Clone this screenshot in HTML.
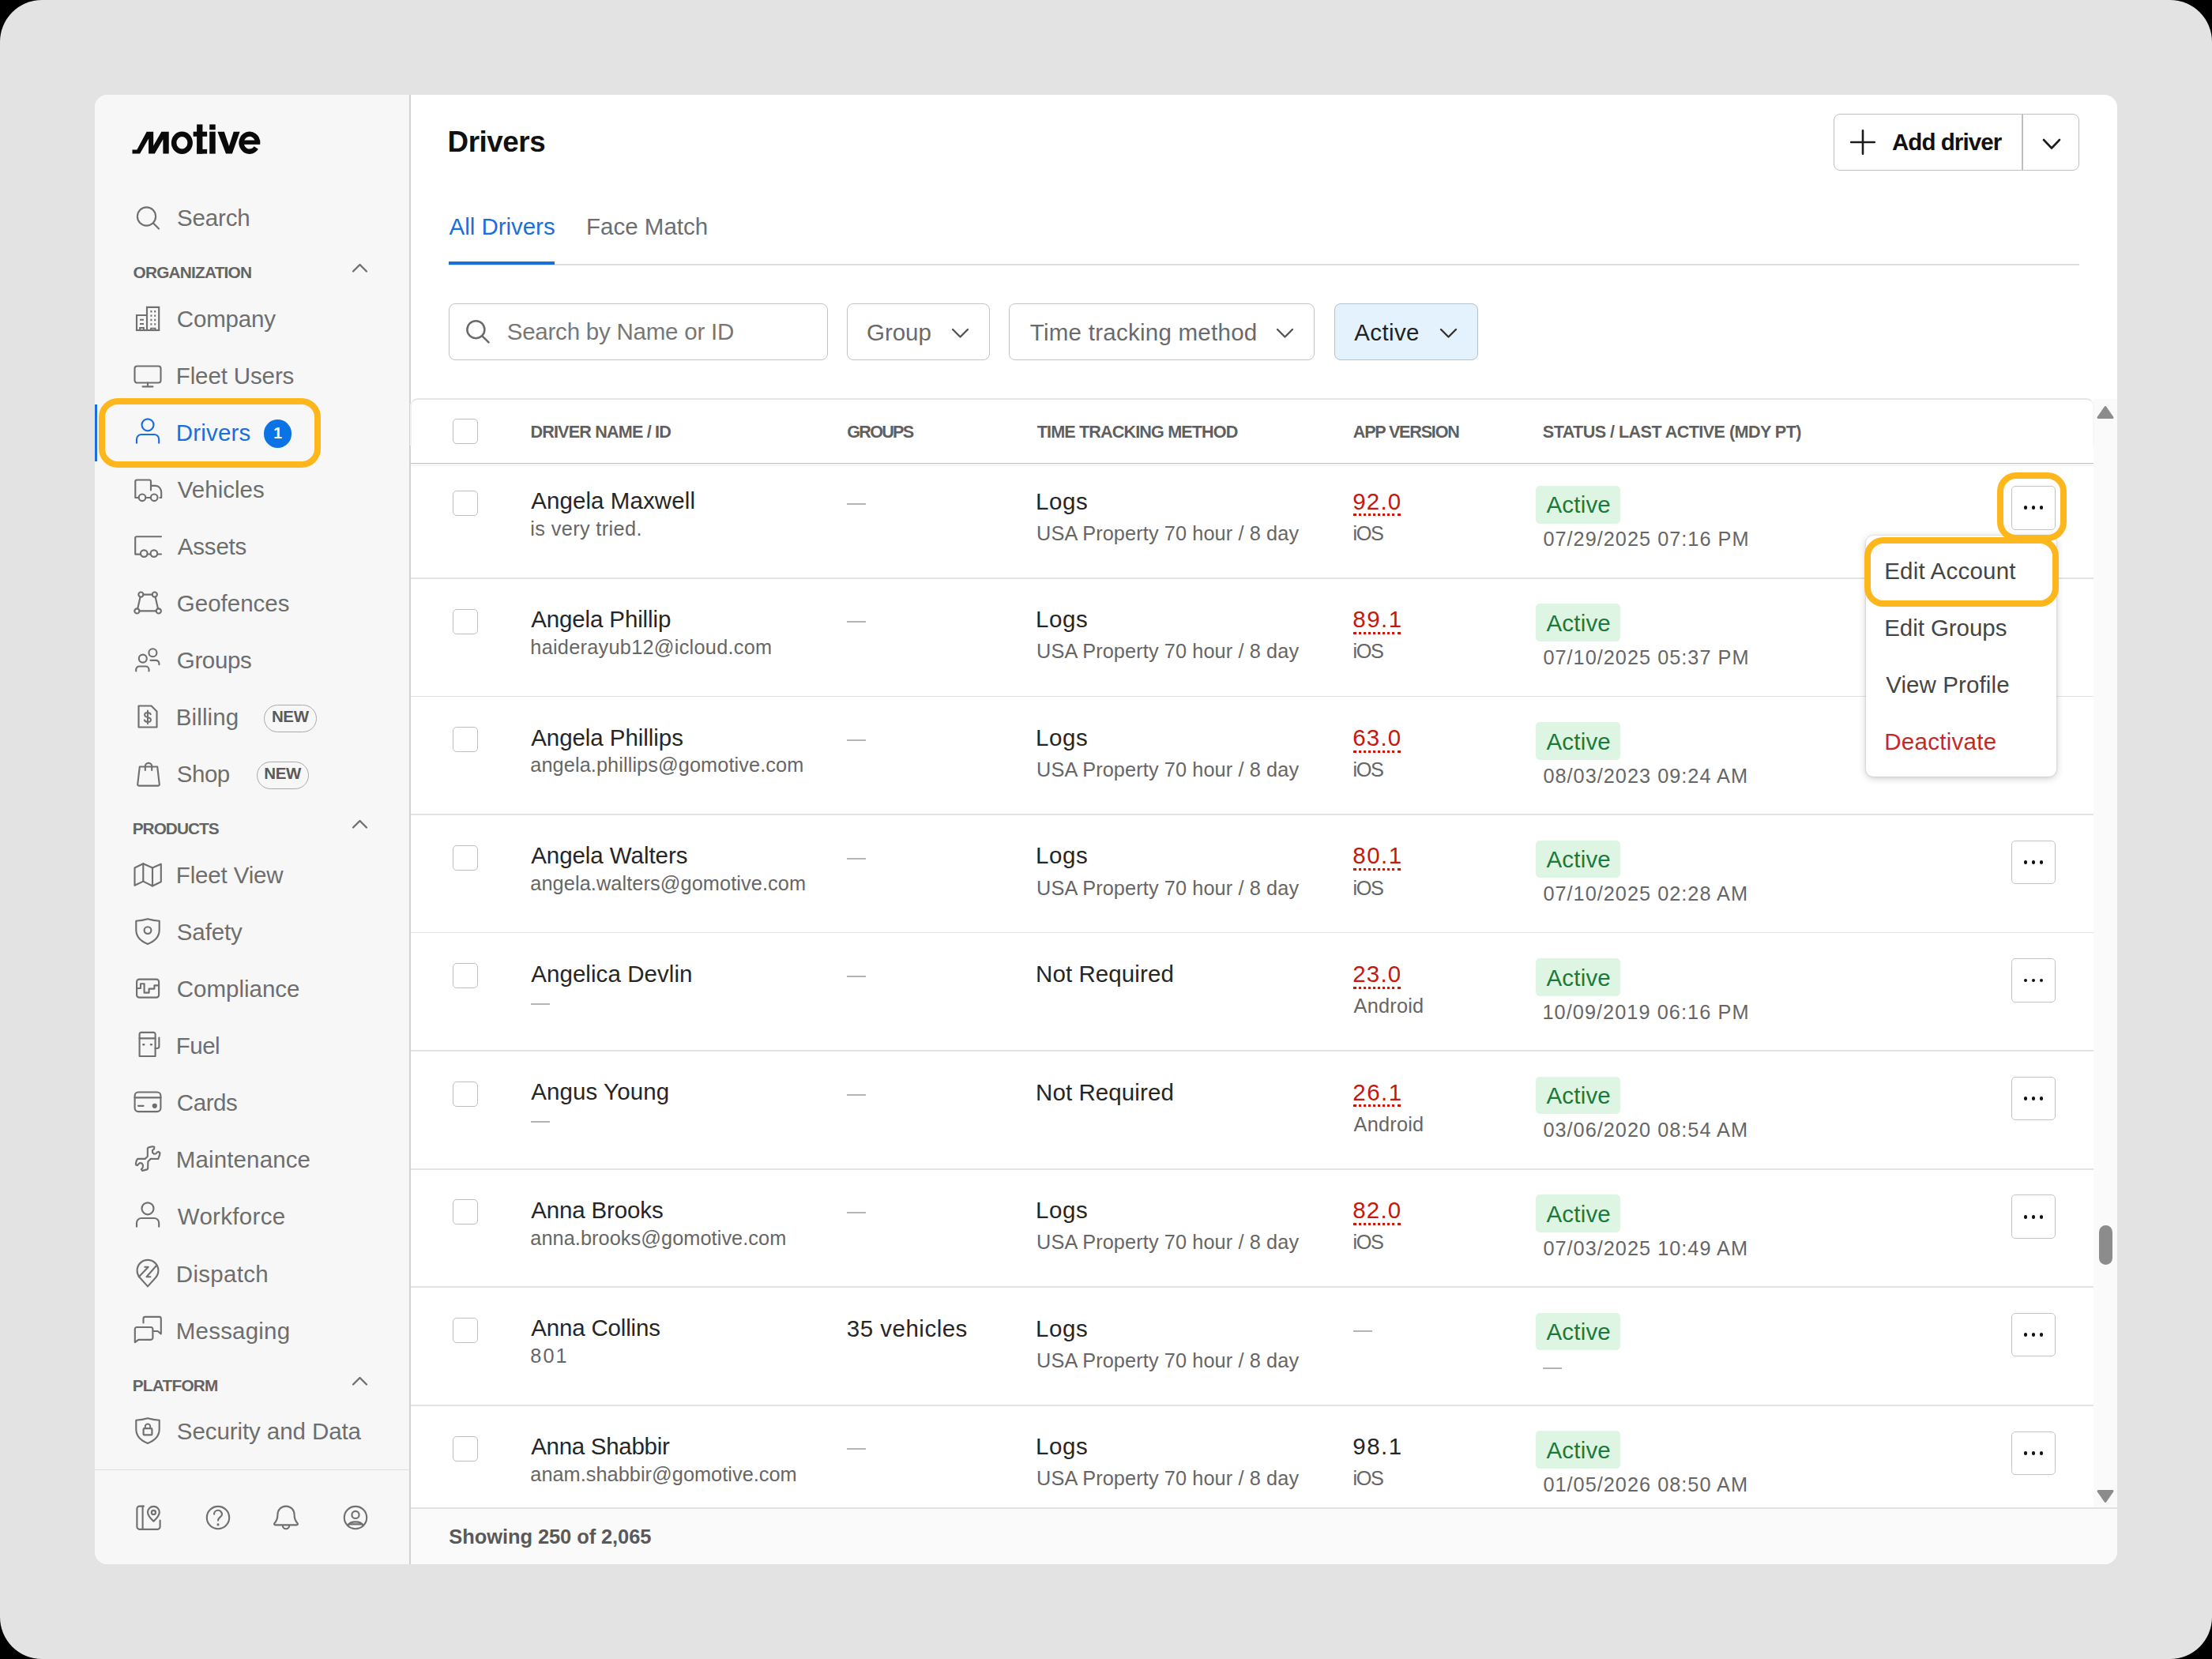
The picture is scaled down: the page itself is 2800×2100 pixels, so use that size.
<!DOCTYPE html>
<html lang="en">
<head>
<meta charset="utf-8">
<title>Drivers</title>
<style>
html,body{margin:0;padding:0;background:#000;}
body{width:2800px;height:2100px;font-family:"Liberation Sans",sans-serif;}
#stage{position:relative;width:2800px;height:2100px;background:#e3e3e3;border-radius:53px;overflow:hidden;}
#stage div,#stage svg{position:absolute;box-sizing:border-box;}
.t{white-space:nowrap;font-family:"Liberation Sans",sans-serif;}
#panel{left:120px;top:120px;width:2560px;height:1860px;background:#fff;border-radius:16px;overflow:hidden;}
#side{left:120px;top:120px;width:399px;height:1860px;background:#f7f7f7;border-radius:16px 0 0 16px;}
#sideb{left:518px;top:120px;width:2px;height:1860px;background:#d2d2d2;}
.hl{border:8px solid #fdb71c;border-radius:24px;}
.box{border:1.7px solid #c4c4c4;border-radius:8px;background:#fff;}
.cb{width:32px;height:32px;border:1.6px solid #bfbfbf;border-radius:5px;background:#fff;}
.sep{left:520px;width:2130px;height:1.8px;background:#e3e3e3;}
.dash{width:24px;height:2px;background:#b4b4b4;}
.badge{width:107px;height:47.8px;background:#dff5e4;border-radius:5px;}
.more{width:56px;height:55.6px;border:1.7px solid #c4c4c4;border-radius:5px;background:#fff;}
.dot{width:4.8px;height:4.8px;border-radius:50%;background:#111;}
.ul{height:0;border-top:3px dotted #c4190c;}
.ic{stroke:#707070;stroke-width:2.15;fill:none;stroke-linecap:round;stroke-linejoin:round;}
</style>
</head>
<body>
<div id="stage">
<div id="panel"></div>
<div id="side"></div>
<div id="sideb"></div>
<div style="left:120px;top:1859.6px;width:398px;height:1.8px;background:#dedede;"></div>
<div style="left:120px;top:512px;width:3px;height:72px;background:#1a6fdc;"></div>
<div class="hl" style="left:125px;top:504px;width:281px;height:88px;"></div>
<div style="left:334px;top:531.3px;width:35.4px;height:35.4px;border-radius:50%;background:#0b73e6;"></div>
<div style="left:334.2px;top:891.6px;width:66.8px;height:35px;border:1.6px solid #a9a9a9;border-radius:18px;"></div>
<div style="left:324.5px;top:963.6px;width:66.8px;height:35px;border:1.6px solid #a9a9a9;border-radius:18px;"></div>
<svg style="left:160px;top:150px;" width="180" height="55" viewBox="0 0 2212 676"><polygon fill="#0a0a0a" points="92,485 165,485 315,205 420,205 420,425 545,205 660,205 660,548 570,548 570,322 440,548 345,548 345,312 210,548 92,548"/>
<ellipse cx="865" cy="378" rx="126" ry="134" fill="none" stroke="#0a0a0a" stroke-width="80"/>
<rect x="1095" y="92" width="90" height="456" fill="#0a0a0a"/>
<rect x="1040" y="205" width="215" height="75" fill="#0a0a0a"/>
<rect x="1095" y="478" width="160" height="70" fill="#0a0a0a"/>
<rect x="1293" y="205" width="92" height="343" fill="#0a0a0a"/>
<rect x="1293" y="92" width="92" height="83" fill="#0a0a0a"/>
<polygon fill="#0a0a0a" points="1418,205 1522,205 1597,430 1668,205 1765,205 1645,548 1548,548"/>
<path d="M2041,378 A126,136 0 1 0 2018,456" fill="none" stroke="#0a0a0a" stroke-width="78"/>
<rect x="1790" y="338" width="290" height="66" fill="#0a0a0a"/></svg>
<svg style="left:444.0px;top:332.05px;" width="23" height="14.5" viewBox="0 0 23 14.5"><path d="M3,11.5 L11.5,3 L20,11.5" fill="none" stroke="#6e6e6e" stroke-width="2.3" stroke-linecap="round" stroke-linejoin="round"/></svg>
<svg style="left:444.0px;top:1036.15px;" width="23" height="14.5" viewBox="0 0 23 14.5"><path d="M3,11.5 L11.5,3 L20,11.5" fill="none" stroke="#6e6e6e" stroke-width="2.3" stroke-linecap="round" stroke-linejoin="round"/></svg>
<svg style="left:444.0px;top:1740.65px;" width="23" height="14.5" viewBox="0 0 23 14.5"><path d="M3,11.5 L11.5,3 L20,11.5" fill="none" stroke="#6e6e6e" stroke-width="2.3" stroke-linecap="round" stroke-linejoin="round"/></svg>
<svg style="left:167.0px;top:255.5px;" width="40" height="40" viewBox="0 0 40 40"><g class="ic"><circle cx="18.5" cy="18" r="11.6"/><path d="M27,26.5 L34,33.5"/></g></svg>
<svg style="left:167.4px;top:382.5px;" width="40" height="40" viewBox="0 0 40 40"><g class="ic"><g stroke-linejoin="miter" stroke-linecap="butt"><path d="M19,35 V5.8 H34.2 V35"/><path d="M6,35 V16 H19"/><path d="M4.9,35 H35.3"/>
<path d="M23.4,11.2 h2 M28.2,11.2 h2 M23.4,16.6 h2 M28.2,16.6 h2 M23.4,22 h2 M28.2,22 h2 M23.4,27.4 h2 M28.2,27.4 h2" stroke-width="2.4"/>
<path d="M10,21.8 h5 M10,27 h5" stroke-width="2"/><path d="M10,35 v-3 h5 v3 M24,35 v-2.4 h5.6 v2.4" stroke-width="1.8"/></g></g></svg>
<svg style="left:167.2px;top:456.0px;" width="40" height="40" viewBox="0 0 40 40"><g class="ic"><rect x="3.5" y="7.5" width="33" height="21" rx="3"/><path d="M20,28.5 V33 M13.5,33.3 H26.5"/></g></svg>
<svg style="left:167.4px;top:528.4px;" width="40" height="40" viewBox="0 0 40 40"><g class="ic" style="stroke:#1a6fdc"><circle cx="20" cy="9.8" r="7.5"/><path d="M6,33.6 V28 a6,6 0 0 1 6,-6 H28.2 a6,6 0 0 1 6,6 V33.6" stroke-linecap="butt"/></g></svg>
<svg style="left:167.3px;top:601.2px;" width="40" height="40" viewBox="0 0 40 40"><g class="ic"><path d="M8.5,29 H4.3 V8.5 a2,2 0 0 1 2,-2 H22 a2,2 0 0 1 2,2 V19.5"/><path d="M24,13.8 H30 c4,0 7.2,4 7.2,8.5 V29 H35.5"/>
<path d="M17.5,29 H23.5"/><circle cx="13" cy="28.8" r="4.3"/><circle cx="28.2" cy="28.8" r="4.3"/></g></svg>
<svg style="left:167.3px;top:672.4px;" width="40" height="40" viewBox="0 0 40 40"><g class="ic"><path d="M37,7.2 H6 a1.8,1.8 0 0 0 -1.8,1.8 V29.6 H11"/><path d="M19.6,29.5 H23.5 M32.5,29.5 H37"/>
<circle cx="15.3" cy="28.6" r="4.3"/><circle cx="27.9" cy="28.6" r="4.3"/></g></svg>
<svg style="left:167.4px;top:742.5px;" width="40" height="40" viewBox="0 0 40 40"><g class="ic"><circle cx="11.4" cy="9.6" r="3.1"/><circle cx="28.8" cy="9.6" r="3.1"/><circle cx="6.4" cy="30.4" r="3.1"/><circle cx="33.8" cy="30.4" r="3.1"/>
<path d="M14.5,9.6 H25.7 M9.5,30.4 H30.7 M10.6,12.6 L7.2,27.4 M29.6,12.6 L33,27.4"/></g></svg>
<svg style="left:167.3px;top:815.5px;" width="40" height="40" viewBox="0 0 40 40"><g class="ic"><circle cx="13.8" cy="17.6" r="5"/><circle cx="26.4" cy="10.2" r="5"/>
<path d="M5.2,33.5 V31.5 a4,4 0 0 1 4,-4 H17.5 a4,4 0 0 1 4,4 V33.5"/><path d="M23.5,19.8 H30.4 a4,4 0 0 1 4,4 V25.2"/></g></svg>
<svg style="left:167.4px;top:886.8px;" width="40" height="40" viewBox="0 0 40 40"><g class="ic"><path d="M8.5,6.5 H24.5 L31.5,13.5 V33.5 H8.5 Z"/>
<path d="M23.8,17.2 c-0.8,-1.6 -2.2,-2.2 -3.9,-2.2 c-2.2,0 -3.8,1.1 -3.8,2.9 c0,4.2 7.9,1.8 7.9,6 c0,1.9 -1.7,3 -4,3 c-1.9,0 -3.5,-0.8 -4.2,-2.4 M20,12.6 V29.2" stroke-width="2"/></g></svg>
<svg style="left:167.6px;top:960.5px;" width="40" height="40" viewBox="0 0 40 40"><g class="ic"><path d="M8.8,9.5 H31.2 L33.8,32 a1.5,1.5 0 0 1 -1.5,1.6 H7.7 a1.5,1.5 0 0 1 -1.5,-1.6 Z"/>
<path d="M15.8,14 V9 a4.2,4.2 0 0 1 8.4,0 V14"/></g></svg>
<svg style="left:167.4px;top:1086.5px;" width="40" height="40" viewBox="0 0 40 40"><g class="ic"><path d="M3.5,11.5 L14.3,6.2 L26,11.5 L36.8,6.8 V29.2 L26,34.5 L14.3,28.6 L3.5,33.8 Z"/><path d="M14.3,6.2 V28.6 M26,11.5 V34.5"/></g></svg>
<svg style="left:167.4px;top:1158.7px;" width="40" height="40" viewBox="0 0 40 40"><g class="ic"><path d="M20,4.2 C15,5.6 10,6.4 5.3,6.8 V18 C5.3,27 12,32.8 20,36 C28,32.8 34.7,27 34.7,18 V6.8 C30,6.4 25,5.6 20,4.2 Z"/><circle cx="20" cy="18.6" r="4.4"/></g></svg>
<svg style="left:167.4px;top:1230.8px;" width="40" height="40" viewBox="0 0 40 40"><g class="ic"><rect x="6.1" y="8.6" width="28" height="23" rx="3.2"/>
<path d="M6.6,20 H11 V14.2 H15.6 V25.6 H21.6 V20.6 H28.4 V16.4 H33.6"/></g></svg>
<svg style="left:167.5px;top:1301.6px;" width="40" height="40" viewBox="0 0 40 40"><g class="ic"><path d="M8.6,35 V7 a2.2,2.2 0 0 1 2.2,-2.2 H26.4 a2.2,2.2 0 0 1 2.2,2.2 V35 Z"/><path d="M8.6,12.4 H28.6"/>
<path d="M13.4,20.2 h0.8 M23,20.2 h0.8" stroke-width="2.6"/><path d="M28.6,25 H31 a2.4,2.4 0 0 0 2.4,-2.4 V11.5"/></g></svg>
<svg style="left:167.3px;top:1374.8px;" width="40" height="40" viewBox="0 0 40 40"><g class="ic"><rect x="3.6" y="7.5" width="32.8" height="24.6" rx="4.5"/><path d="M3.6,14.4 H36.4"/><path d="M8,24.8 H14.6"/>
<circle cx="28.8" cy="24.8" r="3.1" fill="#6e6e6e" stroke="none"/></g></svg>
<svg style="left:167.4px;top:1446.8px;" width="40" height="40" viewBox="0 0 40 40"><g class="ic"><path d="M19.85,6.34 L21.20,5.39 L26.09,4.30 L28.26,4.71 L28.12,7.42 L25.95,9.05 L26.09,12.04 L27.99,13.66 L30.70,13.26 L31.92,11.49 L33.68,10.95 L35.45,12.31 L35.17,14.75 L33.14,20.04 L23.64,19.90 L20.39,23.16 L20.12,32.11 L19.30,33.33 L13.06,34.83 L11.84,33.20 L13.61,31.16 L14.01,28.04 L12.66,25.60 L10.08,25.06 L8.32,26.55 L6.96,28.18 L5.47,27.77 L4.87,26.14 L5.60,22.62 L7.10,19.90 L16.59,19.90 L19.85,16.65 Z"/></g></svg>
<svg style="left:167.4px;top:1520.4px;" width="40" height="40" viewBox="0 0 40 40"><g class="ic"><circle cx="20" cy="9.8" r="7.5"/><path d="M6,33.6 V28 a6,6 0 0 1 6,-6 H28.2 a6,6 0 0 1 6,6 V33.6" stroke-linecap="butt"/></g></svg>
<svg style="left:167.4px;top:1591.5px;" width="40" height="40" viewBox="0 0 40 40"><g class="ic"><path d="M20,36.4 L10,25.2 A13.4,13.4 0 1 1 30,25.2 Z"/>
<path d="M8.8,24.2 L20.7,11.7 H16.3 M31,10 L18.5,24.2 H23.4" stroke-width="2.1"/></g></svg>
<svg style="left:167.3px;top:1661.0px;" width="40" height="40" viewBox="0 0 40 40"><g class="ic"><path d="M14.5,13.5 V8.2 a2.4,2.4 0 0 1 2.4,-2.4 H34.4 a2.4,2.4 0 0 1 2.4,2.4 V27.5 L32.6,24 H27"/>
<path d="M6.2,19 H24 a2.4,2.4 0 0 1 2.4,2.4 V32.4 a2.4,2.4 0 0 1 -2.4,2.4 H8.2 L3.8,38.2 V21.4 a2.4,2.4 0 0 1 2.4,-2.4 Z"/></g></svg>
<svg style="left:167.4px;top:1791.4px;" width="40" height="40" viewBox="0 0 40 40"><g class="ic"><path d="M20,4.2 C15,5.6 10,6.4 5.3,6.8 V18 C5.3,27 12,32.8 20,36 C28,32.8 34.7,27 34.7,18 V6.8 C30,6.4 25,5.6 20,4.2 Z"/><rect x="14.6" y="17.2" width="10.8" height="8.2" rx="1" stroke-width="2.2"/><path d="M16.8,17.2 V14.6 a3.2,3.2 0 0 1 6.4,0 V17.2" stroke-width="2"/></g></svg>
<svg style="left:167.6px;top:1901.2px;" width="40" height="40" viewBox="0 0 40 40"><g class="ic"><path d="M14,5.6 H8.6 a3.2,3.2 0 0 0 -3.2,3.2 V31.6 a3.2,3.2 0 0 0 3.2,3.2 H31.4 a3.2,3.2 0 0 0 3.2,-3.2 V23.5"/><path d="M12.6,5.6 V34.8"/>
<path d="M26.4,24.6 c-4.4,-4 -7.4,-7.6 -7.4,-11.4 a7.4,7.4 0 0 1 14.8,0 c0,3.8 -3,7.4 -7.4,11.4 Z"/><circle cx="26.4" cy="13.4" r="2.6"/></g></svg>
<svg style="left:255.5px;top:1901.4px;" width="40" height="40" viewBox="0 0 40 40"><g class="ic"><circle cx="20" cy="20" r="14.2"/><path d="M15,15.6 a5,5 0 0 1 10,0.4 c0,3.4 -5,3.6 -5,7.6"/><path d="M20,28.6 v0.6" stroke-width="2.8"/></g></svg>
<svg style="left:342.0px;top:1901.2px;" width="40" height="40" viewBox="0 0 40 40"><g class="ic"><path d="M20,5.6 c-6.4,0 -10.6,4.8 -10.6,11 c0,5.6 -1.6,8.2 -4,10.6 c-0.8,0.8 -0.2,2.2 1,2.2 H33.6 c1.2,0 1.8,-1.4 1,-2.2 c-2.4,-2.4 -4,-5 -4,-10.6 c0,-6.2 -4.2,-11 -10.6,-11 Z"/><path d="M15.8,30 a4.2,4.2 0 0 0 8.4,0"/></g></svg>
<svg style="left:430.0px;top:1901.4px;" width="40" height="40" viewBox="0 0 40 40"><g class="ic"><circle cx="20" cy="20" r="14.2"/><circle cx="20" cy="16.4" r="4.6"/><path d="M10.4,30.2 c1.6,-3.6 5.2,-4.8 9.6,-4.8 s8,1.2 9.6,4.8"/><path d="M11.4,28.4 H28.6"/></g></svg>
<div style="left:568px;top:334px;width:2064px;height:2px;background:#dedede;"></div>
<div style="left:567.6px;top:331px;width:134.4px;height:4px;background:#1a6fdc;"></div>
<div class="box" style="left:2321px;top:144px;width:311px;height:72px;border-radius:8px;border-color:#c0c0c0;"></div>
<div style="left:2559.1px;top:145px;width:1.7px;height:70px;background:#c0c0c0;"></div>
<svg style="left:2340px;top:162px;" width="36" height="36" viewBox="0 0 36 36"><path d="M18,3.2 V32.8 M3.2,18 H32.8" fill="none" stroke="#1c1c1c" stroke-width="2.6" stroke-linecap="round"/></svg>
<svg style="left:2583.5px;top:174.25px;" width="26" height="16.5" viewBox="0 0 26 16.5"><path d="M3,3 L13.0,13.5 L23,3" fill="none" stroke="#1c1c1c" stroke-width="2.6" stroke-linecap="round" stroke-linejoin="round"/></svg>
<div class="box" style="left:568px;top:384px;width:480px;height:72px;"></div>
<svg style="left:584px;top:399px;" width="42" height="42" viewBox="0 0 42 42"><circle cx="18.4" cy="18.2" r="11" fill="none" stroke="#6a6a6a" stroke-width="2.5"/><path d="M26.4,26.4 L34.6,34.4" stroke="#6a6a6a" stroke-width="2.5" stroke-linecap="round"/></svg>
<div class="box" style="left:1072px;top:384px;width:181px;height:72px;"></div>
<svg style="left:1202.8px;top:414.05px;" width="25" height="15.5" viewBox="0 0 25 15.5"><path d="M3,3 L12.5,12.5 L22,3" fill="none" stroke="#555" stroke-width="2.4" stroke-linecap="round" stroke-linejoin="round"/></svg>
<div class="box" style="left:1277px;top:384px;width:387px;height:72px;"></div>
<svg style="left:1614.1px;top:414.05px;" width="25" height="15.5" viewBox="0 0 25 15.5"><path d="M3,3 L12.5,12.5 L22,3" fill="none" stroke="#555" stroke-width="2.4" stroke-linecap="round" stroke-linejoin="round"/></svg>
<div class="box" style="left:1688.5px;top:384px;width:182px;height:72px;background:#e3f2fd;border-color:#b3c2ce;"></div>
<svg style="left:1820.7px;top:414.05px;" width="25" height="15.5" viewBox="0 0 25 15.5"><path d="M3,3 L12.5,12.5 L22,3" fill="none" stroke="#333" stroke-width="2.4" stroke-linecap="round" stroke-linejoin="round"/></svg>
<div style="left:2650px;top:505px;width:30px;height:1404px;background:#fafafa;"></div>
<div style="left:519px;top:504px;width:2132px;height:60px;border:2px solid #e6e6e6;border-bottom:none;border-left-color:#f0f0f0;border-right-color:#f7f7f7;border-radius:10px 10px 0 0;background:#fff;"></div>
<div style="left:520px;top:585.6px;width:2130px;height:1.8px;background:#c2c2c2;box-shadow:0 2px 3px rgba(0,0,0,0.15);"></div>
<div class="cb" style="left:572.5px;top:530px;"></div>
<div class="sep" style="top:731.0px;"></div>
<div class="cb" style="left:572.5px;top:621.0px;"></div>
<div class="dash" style="left:1072px;top:636.8px;"></div>
<div class="badge" style="left:1944.2px;top:614.8px;"></div>
<div class="ul" style="left:1713px;top:650.4px;width:60px;"></div>
<div class="more" style="left:2546px;top:615.0px;"></div>
<div class="dot" style="left:2561.6px;top:640.4px;"></div>
<div class="dot" style="left:2571.6px;top:640.4px;"></div>
<div class="dot" style="left:2581.6px;top:640.4px;"></div>
<div class="sep" style="top:880.6px;"></div>
<div class="cb" style="left:572.5px;top:770.6px;"></div>
<div class="dash" style="left:1072px;top:786.4px;"></div>
<div class="badge" style="left:1944.2px;top:764.4px;"></div>
<div class="ul" style="left:1713px;top:800.0px;width:60px;"></div>
<div class="sep" style="top:1030.1px;"></div>
<div class="cb" style="left:572.5px;top:920.1px;"></div>
<div class="dash" style="left:1072px;top:935.9px;"></div>
<div class="badge" style="left:1944.2px;top:913.9px;"></div>
<div class="ul" style="left:1713px;top:949.5px;width:60px;"></div>
<div class="sep" style="top:1179.7px;"></div>
<div class="cb" style="left:572.5px;top:1069.7px;"></div>
<div class="dash" style="left:1072px;top:1085.5px;"></div>
<div class="badge" style="left:1944.2px;top:1063.5px;"></div>
<div class="ul" style="left:1713px;top:1099.1px;width:60px;"></div>
<div class="more" style="left:2546px;top:1063.7px;"></div>
<div class="dot" style="left:2561.6px;top:1089.1px;"></div>
<div class="dot" style="left:2571.6px;top:1089.1px;"></div>
<div class="dot" style="left:2581.6px;top:1089.1px;"></div>
<div class="sep" style="top:1329.2px;"></div>
<div class="cb" style="left:572.5px;top:1219.2px;"></div>
<div class="dash" style="left:672px;top:1269.7px;"></div>
<div class="dash" style="left:1072px;top:1235.0px;"></div>
<div class="badge" style="left:1944.2px;top:1213.0px;"></div>
<div class="ul" style="left:1713px;top:1248.6px;width:60px;"></div>
<div class="more" style="left:2546px;top:1213.2px;"></div>
<div class="dot" style="left:2561.6px;top:1238.6px;"></div>
<div class="dot" style="left:2571.6px;top:1238.6px;"></div>
<div class="dot" style="left:2581.6px;top:1238.6px;"></div>
<div class="sep" style="top:1478.8px;"></div>
<div class="cb" style="left:572.5px;top:1368.8px;"></div>
<div class="dash" style="left:672px;top:1419.3px;"></div>
<div class="dash" style="left:1072px;top:1384.6px;"></div>
<div class="badge" style="left:1944.2px;top:1362.6px;"></div>
<div class="ul" style="left:1713px;top:1398.2px;width:60px;"></div>
<div class="more" style="left:2546px;top:1362.8px;"></div>
<div class="dot" style="left:2561.6px;top:1388.2px;"></div>
<div class="dot" style="left:2571.6px;top:1388.2px;"></div>
<div class="dot" style="left:2581.6px;top:1388.2px;"></div>
<div class="sep" style="top:1628.4px;"></div>
<div class="cb" style="left:572.5px;top:1518.4px;"></div>
<div class="dash" style="left:1072px;top:1534.2px;"></div>
<div class="badge" style="left:1944.2px;top:1512.2px;"></div>
<div class="ul" style="left:1713px;top:1547.8px;width:60px;"></div>
<div class="more" style="left:2546px;top:1512.4px;"></div>
<div class="dot" style="left:2561.6px;top:1537.8px;"></div>
<div class="dot" style="left:2571.6px;top:1537.8px;"></div>
<div class="dot" style="left:2581.6px;top:1537.8px;"></div>
<div class="sep" style="top:1777.9px;"></div>
<div class="cb" style="left:572.5px;top:1667.9px;"></div>
<div class="dash" style="left:1712.6px;top:1683.7px;"></div>
<div class="dash" style="left:1952.6px;top:1731.3px;"></div>
<div class="badge" style="left:1944.2px;top:1661.7px;"></div>
<div class="more" style="left:2546px;top:1661.9px;"></div>
<div class="dot" style="left:2561.6px;top:1687.3px;"></div>
<div class="dot" style="left:2571.6px;top:1687.3px;"></div>
<div class="dot" style="left:2581.6px;top:1687.3px;"></div>
<div class="cb" style="left:572.5px;top:1817.5px;"></div>
<div class="dash" style="left:1072px;top:1833.3px;"></div>
<div class="badge" style="left:1944.2px;top:1811.3px;"></div>
<div class="more" style="left:2546px;top:1811.5px;"></div>
<div class="dot" style="left:2561.6px;top:1836.9px;"></div>
<div class="dot" style="left:2571.6px;top:1836.9px;"></div>
<div class="dot" style="left:2581.6px;top:1836.9px;"></div>
<svg style="left:2653px;top:511px;" width="24" height="22" viewBox="0 0 24 22"><path d="M12,4.5 L21,17.5 H3 Z" fill="#8c8c8c" stroke="#8c8c8c" stroke-width="3" stroke-linejoin="round"/></svg>
<svg style="left:2653.2px;top:1882.6px;" width="24" height="22" viewBox="0 0 24 22"><path d="M12,17.5 L21,4.5 H3 Z" fill="#8c8c8c" stroke="#8c8c8c" stroke-width="3" stroke-linejoin="round"/></svg>
<div style="left:2656.6px;top:1551px;width:17.4px;height:49.5px;border-radius:9px;background:#8c8c8c;"></div>
<div style="left:520px;top:1908px;width:2160px;height:72px;background:#fafafa;border-top:2px solid #e2e2e2;border-radius:0 0 16px 0;"></div>
<div style="left:2362px;top:678px;width:240.5px;height:305px;background:#fff;border-radius:9px;box-shadow:0 2px 10px rgba(0,0,0,0.22),0 0 2px rgba(0,0,0,0.18);"></div>
<div class="hl" style="left:2528.2px;top:598px;width:87.8px;height:87.4px;"></div>
<div class="hl" style="left:2360.2px;top:680.2px;width:246px;height:87.6px;"></div>

<div class="t" style="left:223.90px;top:256.78px;font-size:29.5px;line-height:38px;font-weight:400;color:#6e6e6e;letter-spacing:-0.133px;">Search</div>
<div class="t" style="left:168.50px;top:330.79px;font-size:20.8px;line-height:27px;font-weight:700;color:#646464;letter-spacing:-0.775px;">ORGANIZATION</div>
<div class="t" style="left:223.80px;top:384.98px;font-size:29.5px;line-height:38px;font-weight:400;color:#6e6e6e;letter-spacing:-0.167px;">Company</div>
<div class="t" style="left:222.80px;top:456.98px;font-size:29.5px;line-height:38px;font-weight:400;color:#6e6e6e;letter-spacing:-0.126px;">Fleet Users</div>
<div class="t" style="left:222.80px;top:529.08px;font-size:29.5px;line-height:38px;font-weight:400;color:#1a6fdc;letter-spacing:0.190px;">Drivers</div>
<div class="t" style="left:224.80px;top:601.08px;font-size:29.5px;line-height:38px;font-weight:400;color:#6e6e6e;letter-spacing:0.011px;">Vehicles</div>
<div class="t" style="left:224.80px;top:673.18px;font-size:29.5px;line-height:38px;font-weight:400;color:#6e6e6e;letter-spacing:-0.196px;">Assets</div>
<div class="t" style="left:223.80px;top:745.18px;font-size:29.5px;line-height:38px;font-weight:400;color:#6e6e6e;letter-spacing:-0.003px;">Geofences</div>
<div class="t" style="left:223.80px;top:817.18px;font-size:29.5px;line-height:38px;font-weight:400;color:#6e6e6e;letter-spacing:-0.358px;">Groups</div>
<div class="t" style="left:222.80px;top:889.28px;font-size:29.5px;line-height:38px;font-weight:400;color:#6e6e6e;letter-spacing:0.100px;">Billing</div>
<div class="t" style="left:223.80px;top:961.38px;font-size:29.5px;line-height:38px;font-weight:400;color:#6e6e6e;letter-spacing:-0.496px;">Shop</div>
<div class="t" style="left:222.80px;top:1089.08px;font-size:29.5px;line-height:38px;font-weight:400;color:#6e6e6e;letter-spacing:-0.154px;">Fleet View</div>
<div class="t" style="left:223.80px;top:1161.18px;font-size:29.5px;line-height:38px;font-weight:400;color:#6e6e6e;letter-spacing:-0.116px;">Safety</div>
<div class="t" style="left:223.80px;top:1233.28px;font-size:29.5px;line-height:38px;font-weight:400;color:#6e6e6e;letter-spacing:-0.018px;">Compliance</div>
<div class="t" style="left:222.80px;top:1305.38px;font-size:29.5px;line-height:38px;font-weight:400;color:#6e6e6e;letter-spacing:-0.544px;">Fuel</div>
<div class="t" style="left:223.80px;top:1377.38px;font-size:29.5px;line-height:38px;font-weight:400;color:#6e6e6e;letter-spacing:-0.410px;">Cards</div>
<div class="t" style="left:222.80px;top:1449.48px;font-size:29.5px;line-height:38px;font-weight:400;color:#6e6e6e;letter-spacing:0.129px;">Maintenance</div>
<div class="t" style="left:224.80px;top:1521.48px;font-size:29.5px;line-height:38px;font-weight:400;color:#6e6e6e;letter-spacing:0.304px;">Workforce</div>
<div class="t" style="left:222.80px;top:1593.58px;font-size:29.5px;line-height:38px;font-weight:400;color:#6e6e6e;letter-spacing:0.305px;">Dispatch</div>
<div class="t" style="left:222.80px;top:1665.68px;font-size:29.5px;line-height:38px;font-weight:400;color:#6e6e6e;letter-spacing:0.206px;">Messaging</div>
<div class="t" style="left:223.80px;top:1793.18px;font-size:29.5px;line-height:38px;font-weight:400;color:#6e6e6e;letter-spacing:-0.080px;">Security and Data</div>
<div class="t" style="left:167.70px;top:1035.19px;font-size:20.8px;line-height:27px;font-weight:700;color:#646464;letter-spacing:-0.961px;">PRODUCTS</div>
<div class="t" style="left:167.70px;top:1739.69px;font-size:20.8px;line-height:27px;font-weight:700;color:#646464;letter-spacing:-0.750px;">PLATFORM</div>
<div class="t" style="left:343.90px;top:893.10px;font-size:20.5px;line-height:27px;font-weight:700;color:#5a5a5a;letter-spacing:-0.339px;">NEW</div>
<div class="t" style="left:334.20px;top:965.20px;font-size:20.5px;line-height:27px;font-weight:700;color:#5a5a5a;letter-spacing:-0.339px;">NEW</div>
<div class="t" style="left:346.20px;top:536.34px;font-size:19.5px;line-height:25px;font-weight:700;color:#ffffff;letter-spacing:0.000px;">1</div>
<div class="t" style="left:566.50px;top:156.45px;font-size:36.8px;line-height:48px;font-weight:700;color:#111111;letter-spacing:-0.444px;">Drivers</div>
<div class="t" style="left:568.50px;top:268.48px;font-size:29.5px;line-height:38px;font-weight:400;color:#1a6fdc;letter-spacing:-0.024px;">All Drivers</div>
<div class="t" style="left:742.00px;top:268.48px;font-size:29.5px;line-height:38px;font-weight:400;color:#6e6e6e;letter-spacing:0.011px;">Face Match</div>
<div class="t" style="left:2394.90px;top:161.38px;font-size:29.5px;line-height:38px;font-weight:700;color:#111111;letter-spacing:-0.917px;">Add driver</div>
<div class="t" style="left:641.70px;top:401.38px;font-size:29.5px;line-height:38px;font-weight:400;color:#777777;letter-spacing:-0.222px;">Search by Name or ID</div>
<div class="t" style="left:1097.00px;top:401.88px;font-size:29.5px;line-height:38px;font-weight:400;color:#6a6a6a;letter-spacing:-0.021px;">Group</div>
<div class="t" style="left:1303.80px;top:401.88px;font-size:29.5px;line-height:38px;font-weight:400;color:#6a6a6a;letter-spacing:0.256px;">Time tracking method</div>
<div class="t" style="left:1714.30px;top:401.88px;font-size:29.5px;line-height:38px;font-weight:400;color:#222222;letter-spacing:0.355px;">Active</div>
<div class="t" style="left:671.40px;top:532.82px;font-size:21.6px;line-height:28px;font-weight:700;color:#5f5f5f;letter-spacing:-0.824px;">DRIVER NAME / ID</div>
<div class="t" style="left:1072.20px;top:532.82px;font-size:21.6px;line-height:28px;font-weight:700;color:#5f5f5f;letter-spacing:-1.717px;">GROUPS</div>
<div class="t" style="left:1312.70px;top:532.82px;font-size:21.6px;line-height:28px;font-weight:700;color:#5f5f5f;letter-spacing:-0.864px;">TIME TRACKING METHOD</div>
<div class="t" style="left:1712.80px;top:532.82px;font-size:21.6px;line-height:28px;font-weight:700;color:#5f5f5f;letter-spacing:-1.220px;">APP VERSION</div>
<div class="t" style="left:1952.80px;top:532.82px;font-size:21.6px;line-height:28px;font-weight:700;color:#5f5f5f;letter-spacing:-0.564px;">STATUS / LAST ACTIVE (MDY PT)</div>
<div class="t" style="left:672.20px;top:615.48px;font-size:29.5px;line-height:38px;font-weight:400;color:#262626;letter-spacing:0.089px;">Angela Maxwell</div>
<div class="t" style="left:671.30px;top:653.33px;font-size:25.3px;line-height:33px;font-weight:400;color:#666666;letter-spacing:0.367px;">is very tried.</div>
<div class="t" style="left:1311.00px;top:615.78px;font-size:29.5px;line-height:38px;font-weight:400;color:#262626;letter-spacing:0.560px;">Logs</div>
<div class="t" style="left:1312.10px;top:658.83px;font-size:25.3px;line-height:33px;font-weight:400;color:#666666;letter-spacing:0.108px;">USA Property 70 hour / 8 day</div>
<div class="t" style="left:1712.30px;top:615.78px;font-size:29.5px;line-height:38px;font-weight:400;color:#c4190c;letter-spacing:1.164px;">92.0</div>
<div class="t" style="left:1712.60px;top:658.83px;font-size:25.3px;line-height:33px;font-weight:400;color:#666666;letter-spacing:-1.448px;">iOS</div>
<div class="t" style="left:1957.50px;top:620.48px;font-size:29.5px;line-height:38px;font-weight:400;color:#1b7a3a;letter-spacing:0.175px;">Active</div>
<div class="t" style="left:1953.40px;top:666.43px;font-size:25.3px;line-height:33px;font-weight:400;color:#666666;letter-spacing:1.009px;">07/29/2025 07:16 PM</div>
<div class="t" style="left:672.20px;top:765.04px;font-size:29.5px;line-height:38px;font-weight:400;color:#262626;letter-spacing:-0.127px;">Angela Phillip</div>
<div class="t" style="left:671.30px;top:802.89px;font-size:25.3px;line-height:33px;font-weight:400;color:#666666;letter-spacing:0.271px;">haiderayub12@icloud.com</div>
<div class="t" style="left:1311.00px;top:765.34px;font-size:29.5px;line-height:38px;font-weight:400;color:#262626;letter-spacing:0.560px;">Logs</div>
<div class="t" style="left:1312.10px;top:808.39px;font-size:25.3px;line-height:33px;font-weight:400;color:#666666;letter-spacing:0.108px;">USA Property 70 hour / 8 day</div>
<div class="t" style="left:1712.30px;top:765.34px;font-size:29.5px;line-height:38px;font-weight:400;color:#c4190c;letter-spacing:1.497px;">89.1</div>
<div class="t" style="left:1712.60px;top:808.39px;font-size:25.3px;line-height:33px;font-weight:400;color:#666666;letter-spacing:-1.448px;">iOS</div>
<div class="t" style="left:1957.50px;top:770.04px;font-size:29.5px;line-height:38px;font-weight:400;color:#1b7a3a;letter-spacing:0.175px;">Active</div>
<div class="t" style="left:1953.40px;top:815.99px;font-size:25.3px;line-height:33px;font-weight:400;color:#666666;letter-spacing:1.009px;">07/10/2025 05:37 PM</div>
<div class="t" style="left:672.20px;top:914.60px;font-size:29.5px;line-height:38px;font-weight:400;color:#262626;letter-spacing:-0.054px;">Angela Phillips</div>
<div class="t" style="left:671.30px;top:952.45px;font-size:25.3px;line-height:33px;font-weight:400;color:#666666;letter-spacing:0.093px;">angela.phillips@gomotive.com</div>
<div class="t" style="left:1311.00px;top:914.90px;font-size:29.5px;line-height:38px;font-weight:400;color:#262626;letter-spacing:0.560px;">Logs</div>
<div class="t" style="left:1312.10px;top:957.95px;font-size:25.3px;line-height:33px;font-weight:400;color:#666666;letter-spacing:0.108px;">USA Property 70 hour / 8 day</div>
<div class="t" style="left:1712.30px;top:914.90px;font-size:29.5px;line-height:38px;font-weight:400;color:#c4190c;letter-spacing:1.164px;">63.0</div>
<div class="t" style="left:1712.60px;top:957.95px;font-size:25.3px;line-height:33px;font-weight:400;color:#666666;letter-spacing:-1.448px;">iOS</div>
<div class="t" style="left:1957.50px;top:919.60px;font-size:29.5px;line-height:38px;font-weight:400;color:#1b7a3a;letter-spacing:0.175px;">Active</div>
<div class="t" style="left:1953.40px;top:965.55px;font-size:25.3px;line-height:33px;font-weight:400;color:#666666;letter-spacing:1.009px;">08/03/2023 09:24 AM</div>
<div class="t" style="left:672.20px;top:1064.16px;font-size:29.5px;line-height:38px;font-weight:400;color:#262626;letter-spacing:-0.053px;">Angela Walters</div>
<div class="t" style="left:671.30px;top:1102.01px;font-size:25.3px;line-height:33px;font-weight:400;color:#666666;letter-spacing:0.093px;">angela.walters@gomotive.com</div>
<div class="t" style="left:1311.00px;top:1064.46px;font-size:29.5px;line-height:38px;font-weight:400;color:#262626;letter-spacing:0.560px;">Logs</div>
<div class="t" style="left:1312.10px;top:1107.51px;font-size:25.3px;line-height:33px;font-weight:400;color:#666666;letter-spacing:0.108px;">USA Property 70 hour / 8 day</div>
<div class="t" style="left:1712.30px;top:1064.46px;font-size:29.5px;line-height:38px;font-weight:400;color:#c4190c;letter-spacing:1.497px;">80.1</div>
<div class="t" style="left:1712.60px;top:1107.51px;font-size:25.3px;line-height:33px;font-weight:400;color:#666666;letter-spacing:-1.448px;">iOS</div>
<div class="t" style="left:1957.50px;top:1069.16px;font-size:29.5px;line-height:38px;font-weight:400;color:#1b7a3a;letter-spacing:0.175px;">Active</div>
<div class="t" style="left:1953.40px;top:1115.11px;font-size:25.3px;line-height:33px;font-weight:400;color:#666666;letter-spacing:1.009px;">07/10/2025 02:28 AM</div>
<div class="t" style="left:672.20px;top:1213.72px;font-size:29.5px;line-height:38px;font-weight:400;color:#262626;letter-spacing:0.070px;">Angelica Devlin</div>
<div class="t" style="left:1311.00px;top:1214.02px;font-size:29.5px;line-height:38px;font-weight:400;color:#262626;letter-spacing:0.090px;">Not Required</div>
<div class="t" style="left:1712.30px;top:1214.02px;font-size:29.5px;line-height:38px;font-weight:400;color:#c4190c;letter-spacing:1.164px;">23.0</div>
<div class="t" style="left:1713.60px;top:1257.07px;font-size:25.3px;line-height:33px;font-weight:400;color:#666666;letter-spacing:0.229px;">Android</div>
<div class="t" style="left:1957.50px;top:1218.72px;font-size:29.5px;line-height:38px;font-weight:400;color:#1b7a3a;letter-spacing:0.175px;">Active</div>
<div class="t" style="left:1952.40px;top:1264.67px;font-size:25.3px;line-height:33px;font-weight:400;color:#666666;letter-spacing:1.064px;">10/09/2019 06:16 PM</div>
<div class="t" style="left:672.20px;top:1363.28px;font-size:29.5px;line-height:38px;font-weight:400;color:#262626;letter-spacing:0.097px;">Angus Young</div>
<div class="t" style="left:1311.00px;top:1363.58px;font-size:29.5px;line-height:38px;font-weight:400;color:#262626;letter-spacing:0.090px;">Not Required</div>
<div class="t" style="left:1712.30px;top:1363.58px;font-size:29.5px;line-height:38px;font-weight:400;color:#c4190c;letter-spacing:1.497px;">26.1</div>
<div class="t" style="left:1713.60px;top:1406.63px;font-size:25.3px;line-height:33px;font-weight:400;color:#666666;letter-spacing:0.229px;">Android</div>
<div class="t" style="left:1957.50px;top:1368.28px;font-size:29.5px;line-height:38px;font-weight:400;color:#1b7a3a;letter-spacing:0.175px;">Active</div>
<div class="t" style="left:1953.40px;top:1414.23px;font-size:25.3px;line-height:33px;font-weight:400;color:#666666;letter-spacing:1.009px;">03/06/2020 08:54 AM</div>
<div class="t" style="left:672.20px;top:1512.84px;font-size:29.5px;line-height:38px;font-weight:400;color:#262626;letter-spacing:-0.145px;">Anna Brooks</div>
<div class="t" style="left:671.30px;top:1550.69px;font-size:25.3px;line-height:33px;font-weight:400;color:#666666;letter-spacing:0.069px;">anna.brooks@gomotive.com</div>
<div class="t" style="left:1311.00px;top:1513.14px;font-size:29.5px;line-height:38px;font-weight:400;color:#262626;letter-spacing:0.560px;">Logs</div>
<div class="t" style="left:1312.10px;top:1556.19px;font-size:25.3px;line-height:33px;font-weight:400;color:#666666;letter-spacing:0.108px;">USA Property 70 hour / 8 day</div>
<div class="t" style="left:1712.30px;top:1513.14px;font-size:29.5px;line-height:38px;font-weight:400;color:#c4190c;letter-spacing:1.164px;">82.0</div>
<div class="t" style="left:1712.60px;top:1556.19px;font-size:25.3px;line-height:33px;font-weight:400;color:#666666;letter-spacing:-1.448px;">iOS</div>
<div class="t" style="left:1957.50px;top:1517.84px;font-size:29.5px;line-height:38px;font-weight:400;color:#1b7a3a;letter-spacing:0.175px;">Active</div>
<div class="t" style="left:1953.40px;top:1563.79px;font-size:25.3px;line-height:33px;font-weight:400;color:#666666;letter-spacing:1.009px;">07/03/2025 10:49 AM</div>
<div class="t" style="left:672.20px;top:1662.40px;font-size:29.5px;line-height:38px;font-weight:400;color:#262626;letter-spacing:-0.170px;">Anna Collins</div>
<div class="t" style="left:671.30px;top:1700.25px;font-size:25.3px;line-height:33px;font-weight:400;color:#666666;letter-spacing:2.031px;">801</div>
<div class="t" style="left:1071.80px;top:1662.70px;font-size:29.5px;line-height:38px;font-weight:400;color:#262626;letter-spacing:0.496px;">35 vehicles</div>
<div class="t" style="left:1311.00px;top:1662.70px;font-size:29.5px;line-height:38px;font-weight:400;color:#262626;letter-spacing:0.560px;">Logs</div>
<div class="t" style="left:1312.10px;top:1705.75px;font-size:25.3px;line-height:33px;font-weight:400;color:#666666;letter-spacing:0.108px;">USA Property 70 hour / 8 day</div>
<div class="t" style="left:1957.50px;top:1667.40px;font-size:29.5px;line-height:38px;font-weight:400;color:#1b7a3a;letter-spacing:0.175px;">Active</div>
<div class="t" style="left:672.20px;top:1811.96px;font-size:29.5px;line-height:38px;font-weight:400;color:#262626;letter-spacing:-0.286px;">Anna Shabbir</div>
<div class="t" style="left:671.30px;top:1849.81px;font-size:25.3px;line-height:33px;font-weight:400;color:#666666;letter-spacing:0.040px;">anam.shabbir@gomotive.com</div>
<div class="t" style="left:1311.00px;top:1812.26px;font-size:29.5px;line-height:38px;font-weight:400;color:#262626;letter-spacing:0.560px;">Logs</div>
<div class="t" style="left:1312.10px;top:1855.31px;font-size:25.3px;line-height:33px;font-weight:400;color:#666666;letter-spacing:0.108px;">USA Property 70 hour / 8 day</div>
<div class="t" style="left:1712.30px;top:1812.26px;font-size:29.5px;line-height:38px;font-weight:400;color:#262626;letter-spacing:1.497px;">98.1</div>
<div class="t" style="left:1712.60px;top:1855.31px;font-size:25.3px;line-height:33px;font-weight:400;color:#666666;letter-spacing:-1.448px;">iOS</div>
<div class="t" style="left:1957.50px;top:1816.96px;font-size:29.5px;line-height:38px;font-weight:400;color:#1b7a3a;letter-spacing:0.175px;">Active</div>
<div class="t" style="left:1953.40px;top:1862.91px;font-size:25.3px;line-height:33px;font-weight:400;color:#666666;letter-spacing:1.009px;">01/05/2026 08:50 AM</div>
<div class="t" style="left:2385.20px;top:703.58px;font-size:29.5px;line-height:38px;font-weight:400;color:#454545;letter-spacing:0.207px;">Edit Account</div>
<div class="t" style="left:2385.20px;top:775.78px;font-size:29.5px;line-height:38px;font-weight:400;color:#454545;letter-spacing:-0.052px;">Edit Groups</div>
<div class="t" style="left:2387.20px;top:847.78px;font-size:29.5px;line-height:38px;font-weight:400;color:#454545;letter-spacing:0.108px;">View Profile</div>
<div class="t" style="left:2385.20px;top:919.78px;font-size:29.5px;line-height:38px;font-weight:400;color:#c62828;letter-spacing:0.281px;">Deactivate</div>
<div class="t" style="left:568.30px;top:1929.16px;font-size:25.5px;line-height:33px;font-weight:700;color:#595959;letter-spacing:-0.091px;">Showing 250 of 2,065</div>
</div>
</body>
</html>
